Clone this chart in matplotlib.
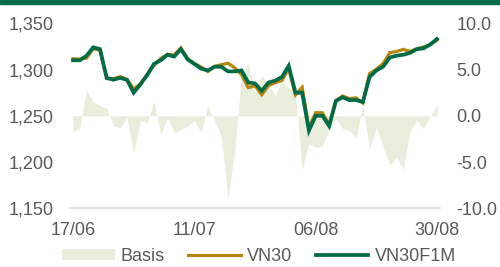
import numpy as np
import matplotlib
matplotlib.use('Agg')
import matplotlib.pyplot as plt
from matplotlib.ticker import FuncFormatter, FormatStrFormatter
from matplotlib.patches import Rectangle

# trading days 17/06 - 30/08
dates = ['17/06', '18/06', '19/06', '20/06', '21/06', '24/06', '25/06', '26/06', '27/06', '28/06',
         '01/07', '02/07', '03/07', '04/07', '05/07', '08/07', '09/07', '10/07', '11/07', '12/07',
         '15/07', '16/07', '17/07', '18/07', '19/07', '22/07', '23/07', '24/07', '25/07', '26/07',
         '29/07', '30/07', '31/07', '01/08', '02/08', '05/08', '06/08', '07/08', '08/08', '09/08',
         '12/08', '13/08', '14/08', '15/08', '16/08', '19/08', '20/08', '21/08', '22/08', '23/08',
         '26/08', '27/08', '28/08', '29/08', '30/08']

vn30f1m = [1310, 1310, 1315, 1324, 1322, 1291, 1289, 1291, 1289, 1275,
           1284, 1294, 1306, 1310, 1316, 1314, 1322, 1311, 1306, 1301,
           1299, 1303, 1303, 1298, 1298, 1299, 1286, 1285, 1277, 1286,
           1288, 1292, 1304, 1275, 1275, 1234, 1250, 1250, 1239, 1266,
           1270, 1267, 1267, 1265, 1292, 1299, 1303, 1313, 1315, 1316,
           1318, 1322, 1323, 1327, 1333]

vn30 = [1311.7, 1311.3, 1312.3, 1322.5, 1320.9, 1290.2, 1290.1, 1292.3, 1289.2, 1279.0,
        1284.5, 1294.8, 1304.5, 1312.0, 1316.2, 1315.8, 1323.5, 1312.1, 1306.5, 1302.8,
        1297.9, 1303.5, 1305.2, 1306.9, 1301.8, 1294.5, 1280.4, 1282.5, 1272.7, 1282.6,
        1285.8, 1288.2, 1301.0, 1272.5, 1280.8, 1237.0, 1253.4, 1253.3, 1240.5, 1266.3,
        1271.4, 1268.6, 1269.4, 1263.9, 1295.6, 1300.3, 1306.4, 1318.3, 1319.5, 1321.8,
        1319.6, 1322.5, 1324.4, 1327.0, 1331.9]

basis = [-1.7, -1.3, 2.7, 1.5, 1.1, 0.8, -1.1, -1.3, -0.2, -4.0,
         -0.5, -0.8, 1.5, -2.0, -0.2, -1.8, -1.5, -1.1, -0.5, -1.8,
         1.1, -0.5, -2.2, -8.9, -3.8, 4.5, 5.6, 2.5, 4.3, 3.4,
         2.2, 3.8, 3.0, 2.5, -5.8, -3.0, -3.4, -3.3, -1.5, -0.3,
         -1.4, -1.6, -2.4, 1.1, -3.6, -1.3, -3.4, -5.3, -4.5, -5.8,
         -1.6, -0.5, -1.4, 0.0, 1.1]

tick_labels = ['17/06', '11/07', '06/08', '30/08']

green = '#006B47'
gold = '#B8860B'
fill_col = '#E9EDDB'
grey_txt = '#595959'

plt.rcParams['font.family'] = ['Liberation Sans', 'DejaVu Sans']
plt.rcParams['font.size'] = 13

fig = plt.figure(figsize=(5, 2.67), dpi=100)
ax = fig.add_axes([0.14, 0.22, 0.74, 0.6927])
ax2 = ax.twinx()

x = np.arange(len(dates))

# basis on right axis, behind the lines
ax2.fill_between(x, basis, 0, color=fill_col, linewidth=0, label='Basis')
ax2.set_ylim(-10, 10)
ax2.set_yticks([-10, -5, 0, 5, 10])
ax2.yaxis.set_major_formatter(FormatStrFormatter('%.1f'))

ax.plot(x, vn30, color=gold, linewidth=2.3, label='VN30', solid_joinstyle='miter')
ax.plot(x, vn30f1m, color=green, linewidth=2.7, label='VN30F1M', solid_joinstyle='miter')
ax.set_ylim(1150, 1350)
ax.set_yticks([1150, 1200, 1250, 1300, 1350])
ax.yaxis.set_major_formatter(FuncFormatter(lambda v, p: f'{int(v):,}'))

ax.set_xlim(-0.45, len(dates) - 1 + 0.45)
tick_pos = [dates.index(t) for t in tick_labels]
ax.set_xticks(tick_pos)
ax.set_xticklabels(tick_labels)

ax.set_zorder(ax2.get_zorder() + 1)
ax.patch.set_visible(False)

for a in (ax, ax2):
    for s in a.spines.values():
        s.set_visible(False)
    a.tick_params(length=0, colors=grey_txt, labelsize=13)
ax.spines['bottom'].set_visible(True)
ax.spines['bottom'].set_color('#D9D9D9')
ax.spines['bottom'].set_linewidth(1.2)
ax.tick_params(axis='y', pad=12)
ax.tick_params(axis='x', pad=10)
ax2.tick_params(axis='y', pad=12)

# legend
h1, l1 = ax2.get_legend_handles_labels()
h2, l2 = ax.get_legend_handles_labels()
leg = fig.legend(h1 + h2, l1 + l2, loc='lower center', bbox_to_anchor=(0.518, -0.052),
                 ncol=3, frameon=False, handlelength=2.9, handleheight=0.6,
                 columnspacing=1.3, handletextpad=0.35, fontsize=13)
for t in leg.get_texts():
    t.set_color(grey_txt)

# top bar
fig.patches.append(Rectangle((0, 0.984), 1, 0.016, transform=fig.transFigure,
                             color=green, zorder=10))

fig.savefig('out.png', dpi=100)
